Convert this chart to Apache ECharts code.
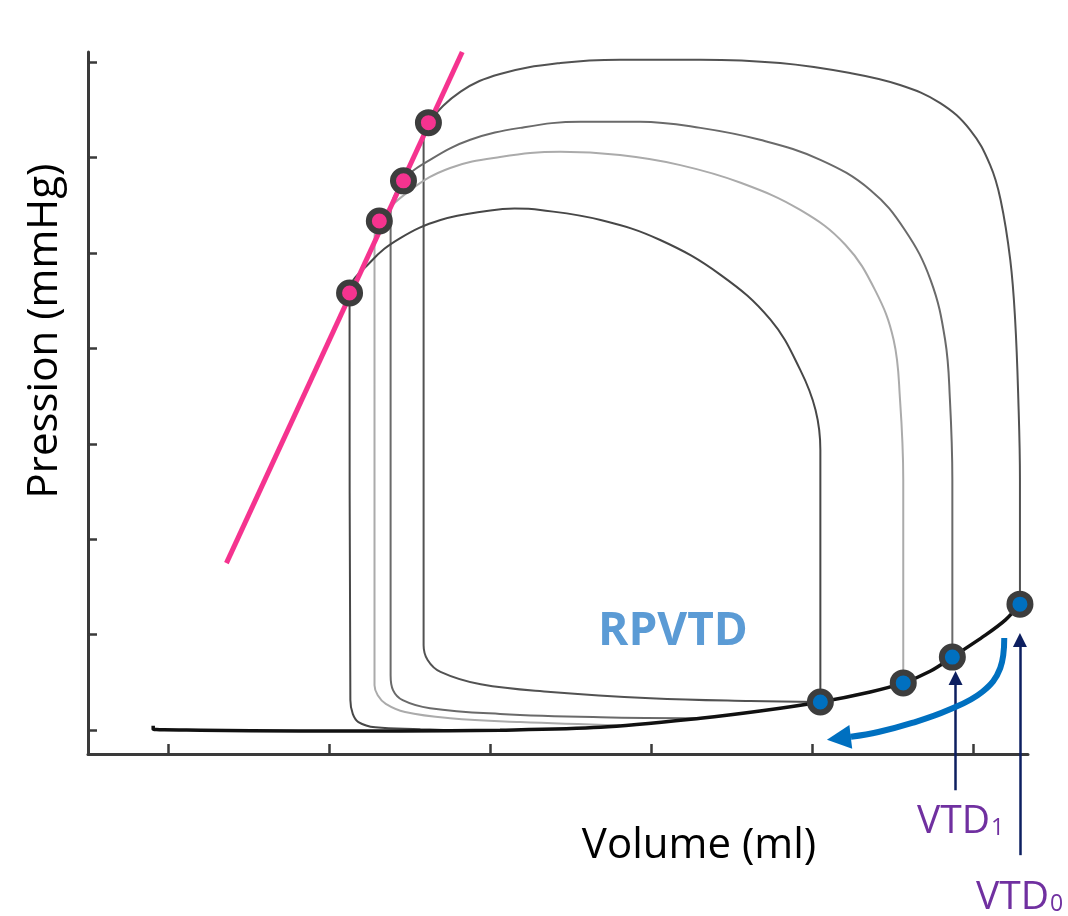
<!DOCTYPE html>
<html>
<head>
<meta charset="utf-8">
<script src="https://cdn.jsdelivr.net/npm/echarts@6/dist/echarts.min.js"></script>
<style>
  html, body { margin: 0; padding: 0; background: #ffffff; }
  #chart { width: 1068px; height: 916px; }
</style>
</head>
<body>
<div id="chart"></div>
<script>
// ---- Data (volume in ml, pressure in mmHg; axis values are not labelled) ----
const xTicks = [40, 60, 80, 100, 120, 140];
const yTicks = [0, 20, 40, 60, 80, 100, 120, 140];

// End-systolic pressure-volume relation (straight line)
const espvr = [[47.2, 35.0], [76.5, 142.1]];

// End-diastolic pressure-volume relation (filling curve)
const edpvr = [
  [38.1, 0.9], [38.1, 0.2], [44.0, 0.0], [56.4, -0.2], [68.8, -0.2], [81.2, 0.0],
  [93.7, 0.6], [106.1, 2.5], [113.5, 4.0], [121.0, 5.9], [127.2, 8.0], [131.3, 9.9],
  [134.7, 12.4], [137.4, 15.3], [141.5, 19.9], [144.0, 23.1], [145.8, 26.4]
];

// Loop A (smallest)
const loopA = [
  [75.0, 0.0], [71.3, 0.2], [65.7, 0.6], [63.6, 1.7], [62.9, 3.4], [62.6, 6.3],
  [62.5, 91.6], [65.1, 98.1], [68.8, 103.1], [73.8, 106.9], [80.0, 108.9], [83.0, 109.3], [86.2, 109.0],
  [93.7, 106.9], [101.1, 102.7], [108.6, 95.4], [114.8, 86.0], [118.5, 75.5],
  [120.4, 67.1], [121.0, 58.7], [121.0, 5.9]
];
// Loop B (light grey)
const loopB = [
  [96.1, 1.0], [83.7, 1.7], [75.0, 2.5], [69.4, 3.8], [67.0, 5.5], [66.0, 7.3], [65.6, 9.4],
  [65.6, 102.1], [66.2, 106.7], [70.1, 113.2], [75.0, 117.8], [81.2, 120.1], [88.7, 121.2],
  [96.1, 120.5], [103.6, 118.4], [111.1, 114.7], [118.5, 109.0], [124.1, 101.7],
  [127.8, 92.2], [130.1, 81.8], [130.9, 69.2], [131.3, 52.4], [131.3, 9.9]
];
// Loop C
const loopC = [
  [106.1, 2.5], [93.7, 2.7], [81.2, 3.4], [72.5, 4.6], [69.1, 6.3], [67.9, 8.4], [67.6, 11.5],
  [67.6, 108.0], [69.2, 115.1], [72.5, 119.5], [77.5, 123.7], [83.7, 126.2], [91.2, 127.5],
  [98.6, 127.5], [106.1, 126.2], [113.5, 123.7], [121.0, 119.5], [127.2, 113.2],
  [131.5, 104.8], [134.7, 94.3], [136.5, 81.8], [137.1, 69.2], [137.4, 52.4], [137.4, 15.3]
];
// Loop D (largest)
const loopD = [
  [121.0, 5.9], [112.3, 6.1], [99.9, 6.7], [87.5, 8.0], [78.8, 9.6], [73.8, 12.2], [72.2, 14.7],
  [71.7, 17.8], [71.7, 124.3], [72.3, 127.3], [76.3, 133.8], [81.2, 137.5], [88.7, 139.8],
  [96.1, 140.5], [106.1, 140.5], [116.0, 139.8], [124.7, 137.7], [130.9, 135.2],
  [135.9, 131.4], [139.6, 125.8], [142.1, 118.4], [143.4, 111.1], [144.6, 98.5],
  [145.2, 86.0], [145.6, 69.2], [145.8, 52.4], [145.8, 26.4]
];

// End-systolic points (pink) and end-diastolic points (blue)
const esPoints = [[62.5, 91.6], [66.2, 106.7], [69.2, 115.1], [72.3, 127.3]];
const edPoints = [[121.0, 5.9], [131.3, 9.9], [137.4, 15.3], [145.8, 26.4]];

// Curved arrow (RPVTD shift)
const shiftArrow = [
  [143.85, 19.3], [143.35, 13.0], [141.1, 8.0], [136.9, 4.2], [132.4, 1.5], [128.2, -0.4], [124.8, -1.4]
];
const shiftArrowHead = [[124.8, -1.4], [123.3, -1.7]];

// VTD markers (vertical arrows)
const vtd1Arrow = [[137.8, -12.6], [137.8, 10.9]];
const vtd0Arrow = [[145.8, -26.2], [145.8, 18.9]];

// ---- Chart ----
const chart = echarts.init(document.getElementById('chart'), null, { renderer: 'canvas' });

function loopSeries(data, color) {
  return {
    type: 'line', data: data, symbol: 'none', smooth: 0.4, clip: false,
    lineStyle: { color: color, width: 2 }, z: 2, silent: true
  };
}

const purple = '#7030a0';
const vtdRich = {
  a: { fontSize: 39, fontFamily: 'Open Sans', fill: purple, color: purple, verticalAlign: 'bottom' },
  b: { fontSize: 23, fontFamily: 'Open Sans', fill: purple, color: purple, verticalAlign: 'bottom', padding: [0, 0, 2, 1] }
};

const option = {
  animation: false,
  backgroundColor: '#ffffff',
  grid: { left: 88, right: 40, top: 52, bottom: 162 },
  xAxis: {
    type: 'value', min: 30, max: 146.8,
    axisLine: { show: true, onZero: false, lineStyle: { color: '#3a3a3a', width: 3 } },
    axisTick: { show: true, inside: true, length: 10, customValues: xTicks, lineStyle: { color: '#3a3a3a', width: 2.5 } },
    axisLabel: { show: false },
    splitLine: { show: false }
  },
  yAxis: {
    type: 'value', min: -5, max: 142.1,
    axisLine: { show: true, onZero: false, lineStyle: { color: '#3a3a3a', width: 3 } },
    axisTick: { show: true, inside: true, length: 9, customValues: yTicks, lineStyle: { color: '#3a3a3a', width: 2.5 } },
    axisLabel: { show: false },
    splitLine: { show: false }
  },
  series: [
    loopSeries(loopD, '#525252'),
    loopSeries(loopC, '#6a6a6a'),
    loopSeries(loopB, '#ababab'),
    loopSeries(loopA, '#474747'),
    {
      type: 'line', data: edpvr, symbol: 'none', smooth: 0.3, clip: false,
      lineStyle: { color: '#111111', width: 3.5 }, z: 3
    },
    {
      type: 'line', data: espvr, symbol: 'none', clip: false,
      lineStyle: { color: '#f5338f', width: 5 }, z: 4
    },
    {
      type: 'line', data: shiftArrow, symbol: 'none', smooth: 0.4, clip: false,
      lineStyle: { color: '#0070c0', width: 6 }, z: 4
    },
    {
      type: 'lines', coordinateSystem: 'cartesian2d', clip: false, z: 4,
      symbol: ['none', 'triangle'], symbolSize: [22, 24],
      lineStyle: { color: '#0070c0', width: 6, opacity: 1 },
      data: [{ coords: shiftArrowHead }]
    },
    {
      type: 'lines', coordinateSystem: 'cartesian2d', clip: false, z: 4,
      symbol: ['none', 'triangle'], symbolSize: [13, 14],
      lineStyle: { color: '#0d1f60', width: 2.5, opacity: 1 },
      data: [{ coords: vtd1Arrow }, { coords: vtd0Arrow }]
    },
    {
      type: 'scatter', data: esPoints, symbol: 'circle', symbolSize: 21, clip: false, z: 5,
      itemStyle: { color: '#f5338f', borderColor: '#3d3d3d', borderWidth: 6, opacity: 1 }
    },
    {
      type: 'scatter', data: edPoints, symbol: 'circle', symbolSize: 21, clip: false, z: 5,
      itemStyle: { color: '#0070c0', borderColor: '#3d3d3d', borderWidth: 6, opacity: 1 }
    }
  ],
  graphic: [
    {
      type: 'text', x: 45, y: 331, rotation: Math.PI / 2,
      style: { text: 'Pression (mmHg)', fill: '#000000', font: '42px "Open Sans"', align: 'center', verticalAlign: 'middle' }
    },
    {
      type: 'text', x: 699, y: 846,
      style: { text: 'Volume (ml)', fill: '#000000', font: '42px "Open Sans"', align: 'center', verticalAlign: 'middle' }
    },
    {
      type: 'text', x: 673, y: 632,
      style: { text: 'RPVTD', fill: '#5b9bd5', font: 'bold 46px "Open Sans"', align: 'center', verticalAlign: 'middle' }
    },
    {
      type: 'text', x: 917, y: 822,
      style: { text: '{a|VTD}{b|1}', fill: purple, align: 'left', verticalAlign: 'middle', rich: vtdRich }
    },
    {
      type: 'text', x: 976, y: 898,
      style: { text: '{a|VTD}{b|0}', fill: purple, align: 'left', verticalAlign: 'middle', rich: vtdRich }
    }
  ]
};

chart.setOption(option);
</script>
</body>
</html>
